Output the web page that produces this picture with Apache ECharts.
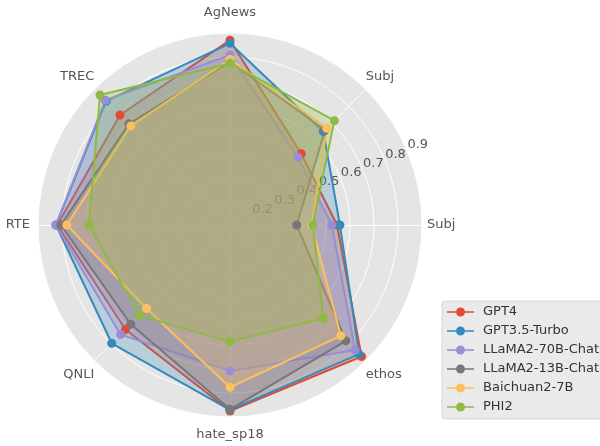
<!DOCTYPE html>
<html>
<head>
<meta charset="utf-8">
<script src="https://cdn.jsdelivr.net/npm/echarts@6/dist/echarts.min.js"></script>
<style>
  html, body { margin: 0; padding: 0; background: #fff; }
</style>
</head>
<body>

<div id="main" style="width: 600px;height:446px;"></div>

<script type="text/javascript">
    // axes go counter-clockwise starting from the right
    var axisNames = ['Subj', 'Subj', 'AgNews', 'TREC', 'RTE', 'QNLI', 'hate_sp18', 'ethos'];
    var radialTicks = [0.2, 0.3, 0.4, 0.5, 0.6, 0.7, 0.8, 0.9];

    var modelNames = ['GPT4', 'GPT3.5-Turbo', 'LLaMA2-70B-Chat', 'LLaMA2-13B-Chat', 'Baichuan2-7B', 'PHI2'];
    var gpt4 = [0.546, 0.52, 0.87, 0.748, 0.82, 0.716, 0.875, 0.875];
    var gpt35 = [0.558, 0.65, 0.857, 0.83, 0.825, 0.797, 0.87, 0.861];
    var llama70 = [0.524, 0.50, 0.808, 0.835, 0.826, 0.745, 0.708, 0.837];
    var llama13 = [0.378, 0.66, 0.78, 0.696, 0.805, 0.685, 0.868, 0.783];
    var baichuan = [0.44, 0.67, 0.79, 0.684, 0.78, 0.592, 0.776, 0.753];
    var phi2 = [0.445, 0.715, 0.774, 0.866, 0.688, 0.634, 0.586, 0.65];

    var allValues = [gpt4, gpt35, llama70, llama13, baichuan, phi2];
    var colors = ['#E24A33', '#348ABD', '#988ED5', '#777777', '#FBC15E', '#8EBA42'];

    // label nudges so names sit like matplotlib's (top, right, bottom, left)
    var namePadding = [[0, 0, 0, 5], [0, 0, 6, 0], [0, 0, 14, 0], [0, 0, 6, 0],
                       [0, 8, 0, 0], [7, 0, 0, 0], [11, 0, 0, 0], [7, 0, 0, 0]];

    var rMin = radialTicks[0] - 0.1;
    var rMax = radialTicks[radialTicks.length - 1];
    var center = [230, 225];
    var radius = 192;
    var font = 'DejaVu Sans';

    var myChart = echarts.init(document.getElementById('main'));

    var series = modelNames.map(function (name, i) {
        return {
            name: name,
            type: 'radar',
            z: 2,
            symbol: 'circle',
            symbolSize: 9,
            itemStyle: { color: colors[i] },
            lineStyle: { color: colors[i], width: 2 },
            areaStyle: { color: colors[i], opacity: 0.25 },
            data: [{ name: name, value: allValues[i] }]
        };
    });

    var legendIcon = 'path://M0,3.75H9V5.25H0Z M18,3.75H27V5.25H18Z M9,4.5A4.5,4.5,0,1,0,18,4.5A4.5,4.5,0,1,0,9,4.5Z';

    var option = {
        animation: false,
        color: colors,
        legend: {
            data: modelNames,
            orient: 'vertical',
            left: 442,
            top: 301,
            padding: [4, 6, 5, 5],
            itemWidth: 27,
            itemHeight: 9,
            itemGap: 5,
            icon: legendIcon,
            backgroundColor: '#EAEAEA',
            borderColor: '#D6D6D6',
            borderWidth: 1,
            borderRadius: 3,
            textStyle: { color: '#333', fontSize: 13, fontFamily: font, lineHeight: 14, padding: [0, 0, 0, 4] }
        },
        radar: {
            z: 0,
            center: center,
            radius: radius,
            startAngle: 0,
            shape: 'circle',
            splitNumber: radialTicks.length,
            indicator: axisNames.map(function (n) { return { name: n, min: rMin, max: rMax }; }),
            axisName: { show: false },
            splitArea: { areaStyle: { color: ['#E5E5E5'] } },
            splitLine: { lineStyle: { color: '#FFFFFF', width: 1 } },
            axisLine: { lineStyle: { color: '#FFFFFF', width: 1 } }
        },
        polar: [
            { center: center, radius: radius },
            { center: center, radius: radius }
        ],
        angleAxis: [
            {
                polarIndex: 0,
                type: 'category',
                data: axisNames.map(function (n, i) {
                    return { value: n, textStyle: { color: '#555', fontSize: 13, fontFamily: font, padding: namePadding[i] } };
                }),
                startAngle: 0,
                clockwise: false,
                boundaryGap: false,
                axisLine: { show: false },
                axisTick: { show: false },
                splitLine: { show: false },
                axisLabel: { margin: 0, color: '#555', fontSize: 13, fontFamily: font }
            },
            {
                polarIndex: 1,
                type: 'value',
                startAngle: 22.5,
                axisLine: { show: false },
                axisTick: { show: false },
                splitLine: { show: false },
                axisLabel: { show: false }
            }
        ],
        radiusAxis: [
            {
                polarIndex: 0,
                type: 'value',
                min: rMin, max: rMax,
                axisLine: { show: false },
                axisTick: { show: false },
                splitLine: { show: false },
                axisLabel: { show: false }
            },
            {
                polarIndex: 1,
                type: 'value',
                z: 1,
                min: rMin, max: rMax,
                interval: 0.1,
                axisLine: { show: false },
                axisTick: { show: false },
                splitLine: { show: false },
                axisLabel: {
                    showMinLabel: false,
                    margin: 0,
                    color: '#555', fontSize: 13, fontFamily: font,
                    align: 'left', verticalAlign: 'bottom',
                    formatter: function (v) { return v.toFixed(1); }
                }
            }
        ],
        series: series
    };

    myChart.setOption(option);
</script>

</body>
</html>
